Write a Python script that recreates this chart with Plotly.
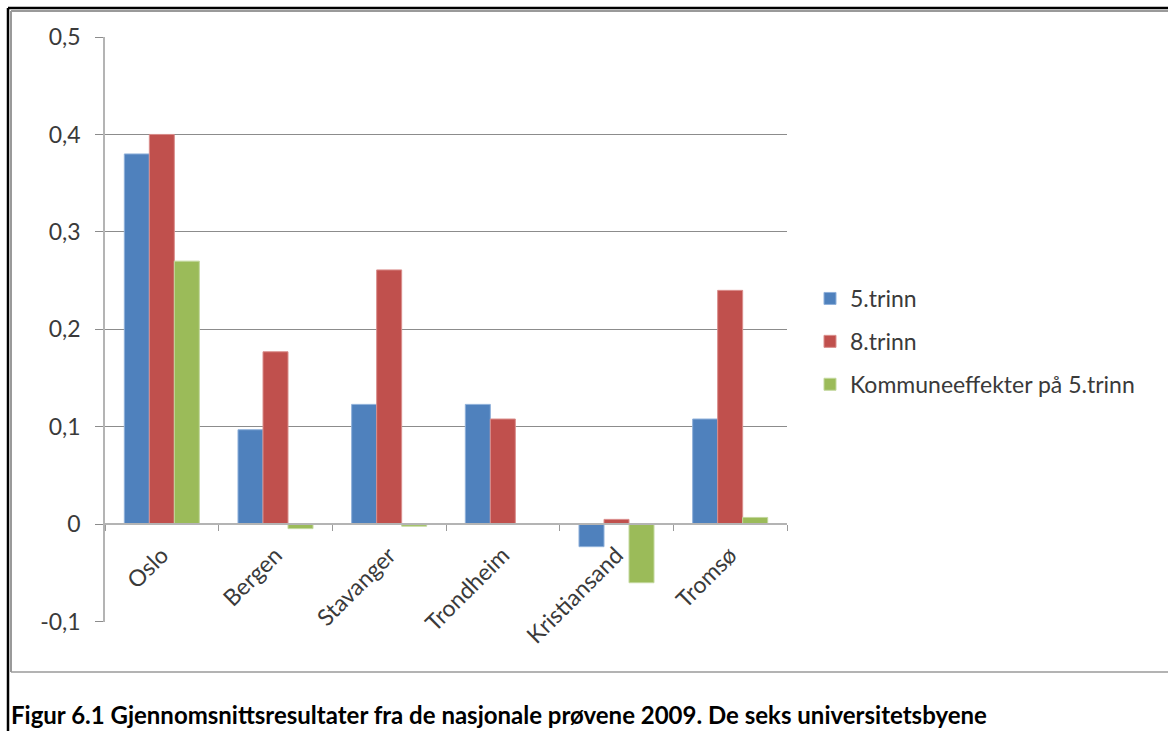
import plotly.graph_objects as go

categories = ["Oslo", "Bergen", "Stavanger", "Trondheim", "Kristiansand", "Tromsø"]
series_names = ["5.trinn", "8.trinn", "Kommuneeffekter på 5.trinn"]
trinn5 = [0.380, 0.097, 0.123, 0.123, -0.023, 0.108]
trinn8 = [0.400, 0.177, 0.261, 0.108, 0.005, 0.240]
kommune = [0.270, -0.0045, -0.002, 0.0, -0.060, 0.007]
y_ticks = [-0.1, 0, 0.1, 0.2, 0.3, 0.4, 0.5]
y_tick_labels = ["-0,1", "0", "0,1", "0,2", "0,3", "0,4", "0,5"]
caption = "Figur 6.1 Gjennomsnittsresultater fra de nasjonale prøvene 2009. De seks universitetsbyene"

colors = ["#4F81BD", "#C0504D", "#9BBB59"]
edge = ["#8FB0DA", "#DA8E8C", "#C3D89E"]

W, H = 1168, 731
L, R, T, B = 105, 787, 37, 622
def px(x):
    return (x - L) / (R - L)
def py(y):
    return (B - y) / (B - T)

FONT = "Lato"
TXT = "#3a3a3a"
FS = 23

fig = go.Figure()
for i, (name, vals) in enumerate(zip(series_names, [trinn5, trinn8, kommune])):
    fig.add_trace(go.Bar(
        x=categories, y=vals, name=name,
        marker=dict(color=colors[i], line=dict(color=edge[i], width=1)),
        legendgroup=f"g{i}",
    ))

shapes = []
shapes.append(dict(type="line", xref="paper", yref="paper", x0=px(8), x1=px(8), y0=py(8), y1=py(735),
                   line=dict(color="#000000", width=2.5)))
shapes.append(dict(type="line", xref="paper", yref="paper", x0=px(8), x1=px(1175), y0=py(8), y1=py(8),
                   line=dict(color="#000000", width=2.5)))
gcol = "#9a9a9a"
shapes.append(dict(type="line", xref="paper", yref="paper", x0=px(11), x1=px(11), y0=py(11), y1=py(672),
                   line=dict(color=gcol, width=2)))
shapes.append(dict(type="line", xref="paper", yref="paper", x0=px(11), x1=px(1175), y0=py(11), y1=py(11),
                   line=dict(color=gcol, width=2)))
shapes.append(dict(type="line", xref="paper", yref="paper", x0=px(11), x1=px(1175), y0=py(672), y1=py(672),
                   line=dict(color=gcol, width=1.5)))

fig.update_layout(
    width=W, height=H,
    margin=dict(l=L, r=W - R, t=T, b=H - B),
    paper_bgcolor="white", plot_bgcolor="white",
    barmode="group", bargap=0.34, bargroupgap=0,
    font=dict(family=FONT, size=FS, color=TXT),
    showlegend=True,
    legend=dict(x=px(810), y=py(277), xanchor="left", yanchor="top",
                font=dict(family=FONT, size=FS, color=TXT),
                tracegroupgap=10, traceorder="grouped", bgcolor="rgba(0,0,0,0)"),
    shapes=shapes,
    annotations=[dict(text="<b>" + caption + "</b>", xref="paper", yref="paper",
                      x=px(9), y=py(731), xanchor="left", yanchor="bottom", showarrow=False,
                      font=dict(family=FONT, size=24, color="#000000"))],
)

fig.update_yaxes(
    range=[-0.1003, 0.5], domain=[0, 1],
    tickvals=y_ticks, ticktext=y_tick_labels,
    showgrid=True, gridcolor="#8c8c8c", gridwidth=1,
    zeroline=False,
    showline=True, linecolor="#b4b4b4", linewidth=1.5,
    ticks="outside", ticklen=8, tickcolor="#8c8c8c",
    ticklabelstandoff=10,
    tickfont=dict(family=FONT, size=FS, color=TXT),
)
fig.update_xaxes(
    type="category", range=[-0.5, 5.5],
    anchor="free", position=py(524),
    showline=True, linecolor="#b4b4b4", linewidth=1.5,
    ticks="outside", tickson="boundaries", ticklen=6, tickcolor="#9a9a9a",
    tickangle=-45, ticklabelstandoff=8,
    showgrid=False,
    tickfont=dict(family=FONT, size=FS, color=TXT),
)

fig.write_html("out.html")
